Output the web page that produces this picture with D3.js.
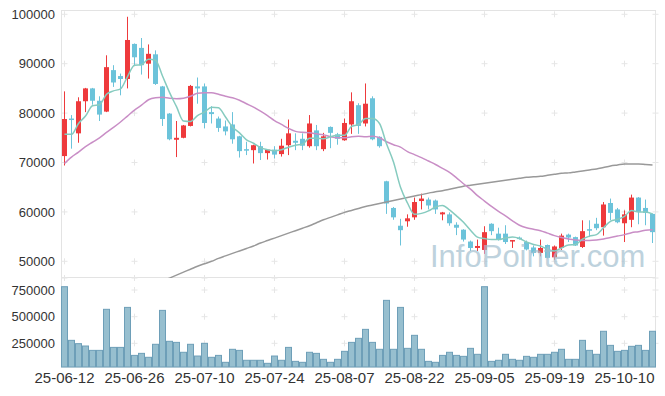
<!DOCTYPE html>
<html lang="en">
<head>
<meta charset="utf-8">
<script src="https://d3js.org/d3.v7.min.js"></script>
<style>
  body { margin: 0; background: #fff; }
  svg { display: block; font-family: "Liberation Sans", Arial, sans-serif; }
  .axis text { fill: #333; }
</style>
</head>
<body>
<script>

  // daily candles + volume with moving averages

  const dates = ["25-06-12","25-06-13","25-06-16","25-06-17","25-06-18","25-06-19","25-06-20","25-06-23","25-06-24","25-06-25",
    "25-06-26","25-06-27","25-06-30","25-07-01","25-07-02","25-07-03","25-07-04","25-07-07","25-07-08","25-07-09",
    "25-07-10","25-07-11","25-07-14","25-07-15","25-07-16","25-07-17","25-07-18","25-07-21","25-07-22","25-07-23",
    "25-07-24","25-07-25","25-07-28","25-07-29","25-07-30","25-07-31","25-08-01","25-08-04","25-08-05","25-08-06",
    "25-08-07","25-08-08","25-08-11","25-08-12","25-08-13","25-08-14","25-08-18","25-08-19","25-08-20","25-08-21",
    "25-08-22","25-08-25","25-08-26","25-08-27","25-08-28","25-08-29","25-09-01","25-09-02","25-09-03","25-09-04",
    "25-09-05","25-09-08","25-09-09","25-09-10","25-09-11","25-09-12","25-09-15","25-09-16","25-09-17","25-09-18",
    "25-09-19","25-09-22","25-09-23","25-09-24","25-09-25","25-09-26","25-09-29","25-09-30","25-10-01","25-10-02",
    "25-10-10","25-10-13","25-10-14","25-10-15","25-10-16"];

  const open = [71300,78900,75900,82400,85000,82500,80300,88700,87500,86900,
    94000,93200,90000,91900,85400,79900,74600,75000,77400,85400,
    85400,80200,78900,77300,77700,75300,72700,72500,73300,71900,
    72600,71700,73500,74400,74800,73300,76500,72700,77200,75700,
    74500,77700,81600,77900,83000,75200,66200,60800,57200,58100,
    58900,62200,62500,62300,59500,59500,57400,56400,54000,52700,
    52300,57600,55600,55600,54100,54800,53900,52800,51700,53300,
    50800,52700,55400,54900,52900,56500,57600,56900,61800,60500,
    57700,58400,62900,60800,59600];
  const high = [84400,79600,83200,85100,85100,83400,91700,89700,88000,99500,
    94100,95200,93900,92700,85500,80000,78400,77600,85700,87200,
    86000,81400,79300,78500,80200,75400,74200,73600,74200,72700,
    73300,74800,78700,75900,75900,79600,77600,76000,77300,76000,
    78900,84200,82000,86000,83400,75300,66300,61000,58600,59500,
    62900,63700,62900,62500,60000,59900,57900,56500,54200,54400,
    57100,57700,56800,57300,54300,55000,54200,53200,54400,53400,
    53200,55600,55600,55000,58300,58300,58800,62000,62700,60800,
    60300,63500,63000,62500,59700];
  const low = [69400,72800,74000,80200,81700,78400,80200,85300,83600,85000,
    89700,87800,87000,85700,77400,74500,71100,74900,77300,81900,
    76900,77900,76200,75500,73800,71000,71500,69800,70500,70600,
    70800,71200,71500,72500,72500,73000,72500,72300,72900,73600,
    74400,75800,75800,77300,74500,73000,59600,58400,53200,57000,
    58400,60500,60500,59600,58300,57200,55300,54000,52100,52100,
    51500,55300,54200,53500,52700,54400,52200,51000,51000,50600,
    50300,52300,53900,53100,52700,54900,56300,55200,58300,57700,
    53900,56900,57500,57300,53700];
  const close = [78800,78700,82400,85000,82500,79700,89300,86200,86900,94800,
    91300,89700,92000,85900,78800,74700,75000,77500,85500,85000,
    78000,79800,77000,76300,74700,72300,72500,73500,71900,72600,
    71600,73400,75900,74000,73400,77900,73300,75300,76000,74800,
    78000,82400,77400,81900,74700,73300,61700,58900,56300,58700,
    62000,62700,61300,60500,59900,57700,56800,54400,52700,53100,
    55900,56100,54400,53900,54300,54500,52400,51700,52700,50700,
    53000,55200,54800,53200,56100,56400,56700,61500,59800,57900,
    59500,62900,60000,59800,55900];
  const volume = [781000,278000,247000,225000,184000,184000,569000,212000,212000,587000,
    137000,156000,119000,241000,559000,269000,259000,166000,241000,131000,
    250000,119000,137000,72000,194000,184000,91000,91000,91000,62500,
    131000,91000,212000,81000,72000,166000,156000,100000,72000,100000,
    175000,259000,297000,381000,259000,194000,653000,194000,587000,203000,
    325000,194000,81000,72000,137000,166000,137000,128000,203000,147000,
    781000,81000,91000,147000,100000,91000,128000,119000,147000,147000,
    166000,194000,100000,100000,278000,184000,147000,363000,231000,175000,
    184000,222000,231000,184000,363000];

  // moving averages
  const ma5 = [75700,75700,77900,79400,81500,81700,83800,84500,84900,87400,
    89700,89800,90900,90700,87500,84200,81300,78400,78300,79500,
    80200,81200,81100,79200,77200,76000,74600,73900,73000,72600,
    72400,72600,73100,73500,73700,74900,74900,74800,75200,75500,
    75500,77300,77700,78900,78900,77900,73800,70100,65000,61800,
    59500,59700,60200,61000,61300,60400,59200,57900,56300,54900,
    54600,54400,54400,54700,54900,54600,53900,53400,53100,52400,
    52100,52700,53300,53400,54500,55100,55400,56800,58100,58500,
    59100,60300,60000,60000,59600];
  const ma20 = [69800,71100,72100,73200,74100,75000,76100,77100,78200,79400,
    80600,81600,82700,83100,83200,83000,82900,83000,83400,84000,
    84100,84100,83800,83400,83100,82600,81900,81200,80400,79500,
    78500,77700,76900,76300,76100,76000,75800,75600,75200,75000,
    75000,75200,75300,75200,75300,75000,74200,73600,73100,72200,
    71600,71000,70300,69600,68800,68000,66900,65700,64600,63300,
    62200,61100,60100,59200,58200,57300,56800,56500,56200,55700,
    55200,54800,54500,54300,54200,54200,54300,54500,54800,55100,
    55400,55800,56000,56300,56400];
  const ma120 = [null,null,null,null,null,null,null,null,null,null,
    null,null,null,null,46000,46600,47200,47800,48400,49000,
    49500,50000,50600,51100,51600,52100,52600,53100,53700,54200,
    54700,55200,55700,56200,56700,57200,57800,58400,58900,59400,
    59900,60300,60700,61100,61400,61700,62000,62300,62600,62900,
    63200,63500,63800,64100,64300,64600,64900,65200,65400,65600,
    65800,66000,66200,66400,66600,66800,67000,67100,67200,67400,
    67600,67800,67900,68100,68300,68500,68700,69000,69300,69500,
    69700,69700,69700,69600,69500];

  const priceTicks = [50000, 60000, 70000, 80000, 90000, 100000];
  const volumeTicks = [250000, 500000, 750000];
  const dateTicks = dates.filter((d, i) => i % 10 === 0);

  // layout
  const width = 665, height = 396;
  const left = 61.5, right = 655.5;
  const priceTop = 10, priceBottom = 278, volBottom = 367;

  const svg = d3.select("body").append("svg")
    .attr("width", width)
    .attr("height", height);

  const x = d3.scaleBand().domain(dates).range([61, 656]).padding(0);
  const cx = d => x(d) + x.bandwidth() / 2;
  const y = d3.scaleLinear().domain([46620, 100870]).range([priceBottom, priceTop]);
  const yv = d3.scaleLinear().domain([28100, 862600]).range([volBottom, priceBottom]);

  // frame
  const frame = svg.append("g").attr("stroke", "#e3e3e3").attr("fill", "none");
  frame.append("rect").attr("x", left).attr("y", priceTop + 0.5)
    .attr("width", right - left).attr("height", volBottom - priceTop - 0.5);
  frame.append("line").attr("x1", left).attr("x2", right)
    .attr("y1", priceBottom - 0.5).attr("y2", priceBottom - 0.5);

  // little "+" marks where grid lines would cross
  const gx = dateTicks.map(cx).concat([right]);
  const gy = priceTicks.map(y).concat(volumeTicks.map(yv)).concat([priceBottom]);
  const crosses = [];
  gx.forEach(a => gy.forEach(b => crosses.push([a, b])));
  svg.append("g").selectAll("path").data(crosses).enter().append("path")
    .attr("d", d => `M${d[0] - 3},${d[1]}h6M${d[0]},${d[1] - 3}v6`)
    .attr("stroke", "#e6e6e6")
    .attr("stroke-width", 1);

  // clip for the price panel
  svg.append("clipPath").attr("id", "priceClip")
    .append("rect").attr("x", left).attr("y", priceTop)
    .attr("width", right - left).attr("height", priceBottom - priceTop);

  // volume bars
  svg.append("g").selectAll("rect").data(dates).enter().append("rect")
    .attr("x", d => x(d) + 0.5)
    .attr("y", (d, i) => yv(volume[i]))
    .attr("width", x.bandwidth() - 1)
    .attr("height", (d, i) => volBottom - yv(volume[i]))
    .attr("fill", "#97bfcf")
    .attr("stroke", "#6e9fb8")
    .attr("stroke-width", 1);

  // candles
  const up = "#ee3a3c", down = "#6cc3da";
  const candles = svg.append("g").attr("clip-path", "url(#priceClip)")
    .selectAll("g").data(dates).enter().append("g");
  const col = (d, i) => close[i] >= open[i] ? up : down;
  candles.append("line")
    .attr("x1", d => cx(d)).attr("x2", d => cx(d))
    .attr("y1", (d, i) => y(high[i])).attr("y2", (d, i) => y(low[i]))
    .attr("stroke", col).attr("stroke-width", 1);
  candles.append("rect")
    .attr("x", d => cx(d) - 2.5)
    .attr("width", 5)
    .attr("y", (d, i) => y(Math.max(open[i], close[i])))
    .attr("height", (d, i) => Math.max(1.5, Math.abs(y(open[i]) - y(close[i]))))
    .attr("fill", col);

  // moving average lines
  const line = arr => d3.line()
    .defined((d, i) => arr[i] != null)
    .x(d => cx(d))
    .y((d, i) => y(arr[i]))
    .curve(d3.curveMonotoneX)(dates);
  const lines = svg.append("g").attr("clip-path", "url(#priceClip)").attr("fill", "none");
  lines.append("path").attr("d", line(ma120)).attr("stroke", "#999").attr("stroke-width", 1.5);
  lines.append("path").attr("d", line(ma20)).attr("stroke", "#c98ec6").attr("stroke-width", 1.5);
  lines.append("path").attr("d", line(ma5)).attr("stroke", "#86cbbf").attr("stroke-width", 1.5);

  // axes
  const yAxis = svg.append("g").attr("class", "axis")
    .attr("transform", `translate(${left},0)`)
    .call(d3.axisLeft(y).tickValues(priceTicks).tickSize(0).tickPadding(6.5).tickFormat(d3.format("d")));
  const vAxis = svg.append("g").attr("class", "axis")
    .attr("transform", `translate(${left},0)`)
    .call(d3.axisLeft(yv).tickValues(volumeTicks).tickSize(0).tickPadding(6.5).tickFormat(d3.format("d")));
  const xAxis = svg.append("g").attr("class", "axis")
    .attr("transform", `translate(0,${volBottom})`)
    .call(d3.axisBottom(x).tickValues(dateTicks).tickSize(0).tickPadding(5.5));
  [yAxis, vAxis, xAxis].forEach(g => g.select(".domain").remove());
  yAxis.selectAll("text").attr("font-size", 13);
  vAxis.selectAll("text").attr("font-size", 13);
  xAxis.selectAll("text").attr("font-size", 15).attr("font-family", "Liberation Sans, Arial, sans-serif");

  // watermark
  svg.append("text")
    .attr("x", 430).attr("y", 267)
    .attr("font-size", 31)
    .attr("fill", "#a3bfd0")
    .attr("opacity", 0.7)
    .text("InfoPointer.com");

</script>
</body>
</html>
